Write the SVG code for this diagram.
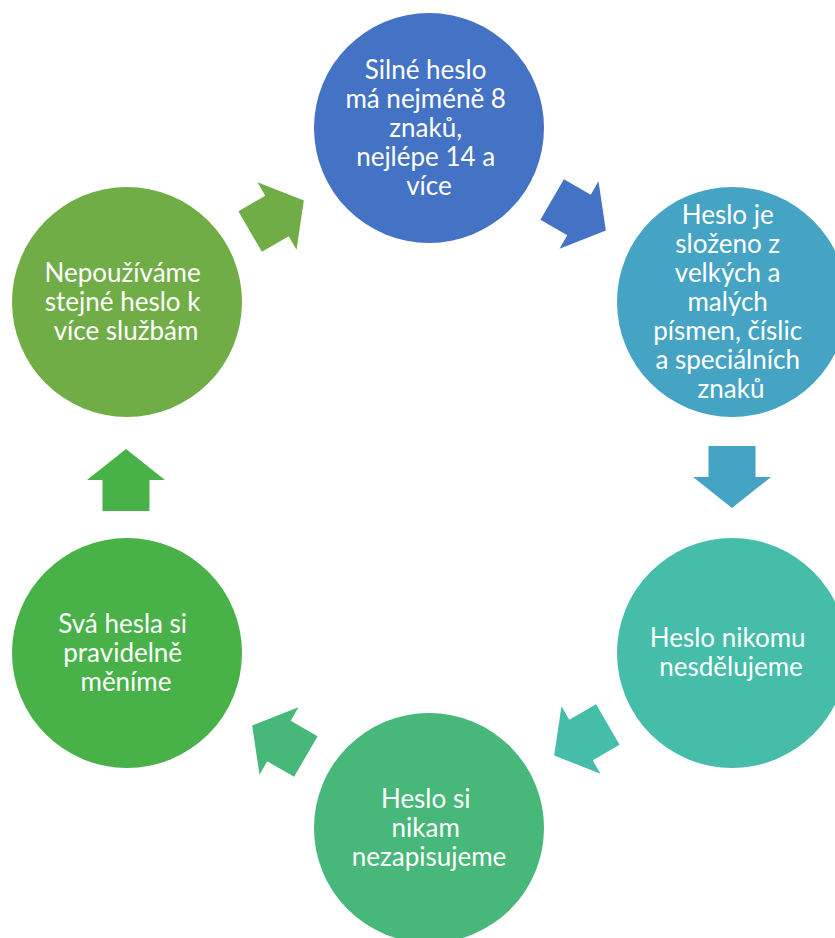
<svg xmlns="http://www.w3.org/2000/svg" width="835" height="938" viewBox="0 0 835 938">
  <defs>
    <!-- block arrow pointing along +x, centred on the origin -->
    <polygon id="blockArrow" points="-31,-23.5 0,-23.5 0,-39 31,0 0,39 0,23.5 -31,23.5"/>
  </defs>
  <style>
    .lbl { font-family: "Lato", "Open Sans", "Liberation Sans", sans-serif; font-size: 26px; fill: #ffffff; text-anchor: middle; }
  </style>
  <rect width="835" height="938" fill="#ffffff"/>

  <!-- connectors -->
  <g id="connectors">
    <use href="#blockArrow" transform="translate(579,215) rotate(30)" fill="#4472C4"/>
    <use href="#blockArrow" transform="translate(732,477) rotate(90)" fill="#45A4C3"/>
    <use href="#blockArrow" transform="translate(581,740) rotate(150)" fill="#45BDA9"/>
    <use href="#blockArrow" transform="translate(279,741) rotate(210)" fill="#47B879"/>
    <use href="#blockArrow" transform="translate(126,480) rotate(270)" fill="#48B249"/>
    <use href="#blockArrow" transform="translate(277,216) rotate(330)" fill="#71AD47"/>
  </g>

  <g id="node-min-length">
    <circle cx="429" cy="128" r="115" fill="#4472C4"/>
    <text class="lbl">
      <tspan x="429" y="79">Silné heslo</tspan>
      <tspan x="429" y="108">má nejméně 8</tspan>
      <tspan x="429" y="137">znaků,</tspan>
      <tspan x="429" y="166">nejlépe 14 a</tspan>
      <tspan x="429" y="195">více</tspan>
    </text>
  </g>

  <g id="node-characters">
    <circle cx="732" cy="302" r="115" fill="#45A4C3"/>
    <text class="lbl">
      <tspan x="731" y="224">Heslo je</tspan>
      <tspan x="731" y="253">složeno z</tspan>
      <tspan x="731" y="282">velkých a</tspan>
      <tspan x="731" y="311">malých</tspan>
      <tspan x="731" y="340">písmen, číslic</tspan>
      <tspan x="731" y="369">a speciálních</tspan>
      <tspan x="731" y="398">znaků</tspan>
    </text>
  </g>

  <g id="node-share">
    <circle cx="732" cy="653" r="115" fill="#45BDA9"/>
    <text class="lbl">
      <tspan x="731" y="647">Heslo nikomu</tspan>
      <tspan x="731" y="676">nesdělujeme</tspan>
    </text>
  </g>

  <g id="node-write">
    <circle cx="429" cy="828" r="115" fill="#47B879"/>
    <text class="lbl">
      <tspan x="429" y="808">Heslo si</tspan>
      <tspan x="429" y="837">nikam</tspan>
      <tspan x="429" y="866">nezapisujeme</tspan>
    </text>
  </g>

  <g id="node-change">
    <circle cx="127" cy="653" r="115" fill="#48B249"/>
    <text class="lbl">
      <tspan x="126" y="633">Svá hesla si</tspan>
      <tspan x="126" y="662">pravidelně</tspan>
      <tspan x="126" y="691">měníme</tspan>
    </text>
  </g>

  <g id="node-reuse">
    <circle cx="127" cy="302" r="115" fill="#71AD47"/>
    <text class="lbl">
      <tspan x="126" y="282">Nepoužíváme</tspan>
      <tspan x="126" y="311">stejné heslo k</tspan>
      <tspan x="126" y="340">více službám</tspan>
    </text>
  </g>
</svg>
